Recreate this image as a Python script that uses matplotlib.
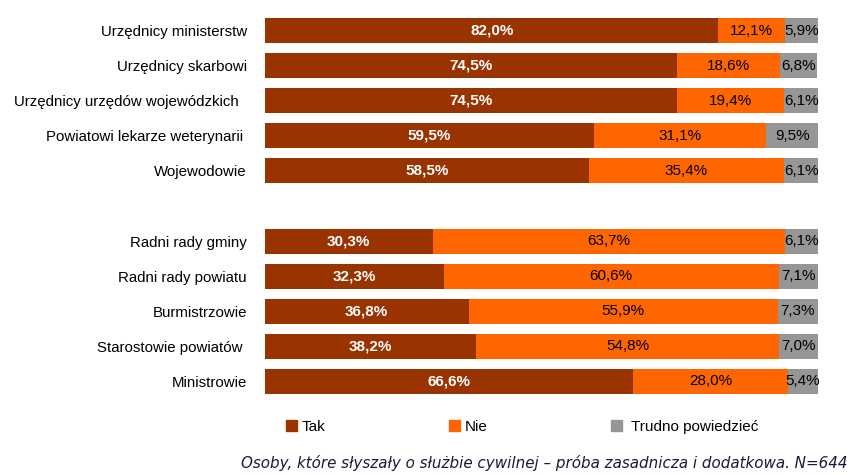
import numpy as np
import matplotlib.pyplot as plt
from matplotlib.patches import Patch

plt.rcParams['font.family'] = ['Liberation Sans', 'DejaVu Sans']

categories = ["Urzędnicy ministerstw", "Urzędnicy skarbowi",
              "Urzędnicy urzędów wojewódzkich  ", "Powiatowi lekarze weterynarii ",
              "Wojewodowie", "",
              "Radni rady gminy", "Radni rady powiatu", "Burmistrzowie",
              "Starostowie powiatów ", "Ministrowie"]
tak = [82.0, 74.5, 74.5, 59.5, 58.5, None, 30.3, 32.3, 36.8, 38.2, 66.6]
nie = [12.1, 18.6, 19.4, 31.1, 35.4, None, 63.7, 60.6, 55.9, 54.8, 28.0]
trudno = [5.9, 6.8, 6.1, 9.5, 6.1, None, 6.1, 7.1, 7.3, 7.0, 5.4]

c_tak = '#993300'
c_nie = '#FF6600'
c_tru = '#969696'

def fmt(v):
    return ("%.1f%%" % v).replace('.', ',')

fig = plt.figure(figsize=(8.54, 4.75), dpi=100)
ax = fig.add_axes([265/854, 1-399/475, (818-265)/854, (399-13)/475])

h = 0.71
for i, cat in enumerate(categories):
    if tak[i] is None:
        continue
    a, b, c = tak[i], nie[i], trudno[i]
    ax.barh(i, a, height=h, color=c_tak)
    ax.barh(i, b, left=a, height=h, color=c_nie)
    ax.barh(i, c, left=a+b, height=h, color=c_tru)
    ax.text(a/2, i, fmt(a), ha='center', va='center', color='white',
            fontsize=11, fontweight='bold')
    ax.text(a+b/2, i, fmt(b), ha='center', va='center', color='black', fontsize=11)
    ax.text(a+b+c/2, i, fmt(c), ha='center', va='center', color='black', fontsize=11)

ax.set_xlim(0, 100)
ax.set_ylim(10.5, -0.5)
ax.set_yticks(range(len(categories)))
ax.set_yticklabels(categories, fontsize=10.8)
ax.tick_params(axis='y', length=0, pad=13)
ax.set_xticks([])
for s in ax.spines.values():
    s.set_visible(False)

handles = [Patch(color=c_tak), Patch(color=c_nie), Patch(color=c_tru)]
fig.legend(handles, ["Tak", "Nie", " Trudno powiedzieć"], ncol=3,
           loc='center left', bbox_to_anchor=(286/854, 1-427/475),
           frameon=False, fontsize=11, handlelength=0.72, handleheight=0.72,
           handletextpad=0.3, columnspacing=8.1, borderaxespad=0, borderpad=0)

fig.text(848/854, 1-463/475,
         "Osoby, które słyszały o służbie cywilnej – próba zasadnicza i dodatkowa. N=644",
         ha='right', va='center', fontsize=10.9, style='italic', family='DejaVu Sans',
         color='#1a1a3a')

fig.savefig('out.png', dpi=100)
